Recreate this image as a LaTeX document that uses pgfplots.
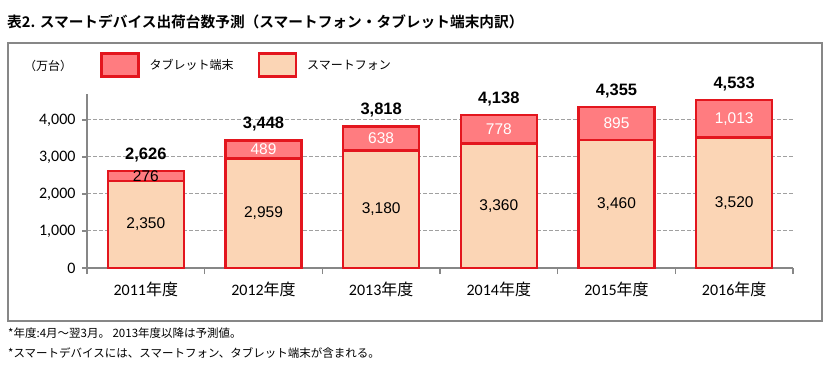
\documentclass[border=0pt]{standalone}
\usepackage{pgfplots}
\pgfplotsset{compat=1.18}
\usepackage{fontspec}
\setmainfont{Liberation Sans}
\newfontfamily\jp{Noto Sans CJK JP}
\newfontfamily\jpb{Noto Sans CJK JP Bold}
\newfontfamily\calib{Carlito}
\definecolor{tab}{HTML}{FF7C80}
\definecolor{smart}{HTML}{FBD5B5}
\definecolor{barred}{HTML}{E3161E}
\definecolor{axgray}{HTML}{878787}
\definecolor{gridgray}{HTML}{A0A0A0}
\newcommand\yr[1]{{\calib #1}{\jp 年度}}
\pgfplotsset{
  common/.style={
    at={(87pt,112pt)}, anchor=south west,
    width=706pt, height=174pt, scale only axis,
    xmin=-0.5, xmax=5.5, ymin=0, ymax=4700,
  }
}
\begin{document}
\begin{tikzpicture}[x=1pt,y=1pt]
\useasboundingbox (0,0) rectangle (826,380);
\draw[axgray, line width=1.3pt] (8,59) rectangle (822,337);
\node[anchor=west, inner sep=0] at (7,358) {\jpb\fontsize{14.7}{16}\selectfont 表2. スマートデバイス出荷台数予測（スマートフォン・タブレット端末内訳）};
\node[anchor=center, inner sep=0] at (48,314) {\jp\fontsize{12}{14}\selectfont （万台）};
\node[anchor=west, inner sep=0] at (8,47) {\jp\fontsize{11.5}{13}\selectfont *年度:4月～翌3月。 2013年度以降は予測値。};
\node[anchor=west, inner sep=0] at (8,27) {\jp\fontsize{11.5}{13}\selectfont *スマートデバイスには、スマートフォン、タブレット端末が含まれる。};

\begin{axis}[common,
  ybar stacked, bar width=76pt,
  axis x line*=bottom, axis y line*=left,
  axis line style={axgray, line width=1.3pt},
  tick align=outside,
  major tick length=5pt, minor tick length=6pt,
  tick style={axgray, line width=1.3pt},
  ytick={0,1000,2000,3000,4000},
  xtick={0,1,2,3,4,5},
  xticklabels={\yr{2011},\yr{2012},\yr{2013},\yr{2014},\yr{2015},\yr{2016}},
  minor xtick={-0.5,0.5,1.5,2.5,3.5,4.5,5.5},
  major x tick style={draw=none},
  ymajorgrids=true,
  major grid style={gridgray, dash pattern=on 3.5pt off 2.5pt, line width=1pt},
  /pgf/number format/1000 sep={,},
  /pgf/number format/assume math mode=true,
  yticklabel style={font=\calib\fontsize{16}{18}\selectfont, xshift=-3pt},
  xticklabel style={font=\fontsize{16}{18}\selectfont, yshift=-5pt},
]
\addplot[fill=smart, draw=barred, line width=2.5pt] coordinates {(0,2350) (1,2959) (2,3180) (3,3360) (4,3460) (5,3520)};
\addplot[fill=tab, draw=barred, line width=2.5pt] coordinates {(0,276) (1,489) (2,638) (3,778) (4,895) (5,1013)};
\end{axis}

\begin{axis}[common, hide axis, clip=false,
  legend style={at={(0.0184,1.2414)}, anchor=north west, draw=none, fill=none, inner sep=0pt,
    font=\jp\fontsize{12}{14}\selectfont,
    /tikz/every even column/.append style={column sep=22pt},
    /tikz/every odd column/.append style={column sep=8pt}},
  legend columns=2, legend cell align=left,
]
\addlegendimage{legend image code/.code={\draw[fill=tab, draw=barred, line width=2.5pt] (0pt,-11pt) rectangle (37pt,12pt);}}
\addlegendentry{タブレット端末}
\addlegendimage{legend image code/.code={\draw[fill=smart, draw=barred, line width=2.5pt] (0pt,-11pt) rectangle (37pt,12pt);}}
\addlegendentry{スマートフォン}

\addplot[only marks, mark=*, mark size=0pt, mark options={draw=none, fill=none},
  nodes near coords, point meta=explicit symbolic, nodes near coords align=center,
  every node near coord/.append style={font=\fontsize{15.5}{17}\selectfont, text=black, anchor=center}]
  table[meta=label] {
x y label
0 1175 2,350
1 1479.5 2,959
2 1590 3,180
3 1680 3,360
4 1730 3,460
5 1760 3,520
};
\addplot[only marks, mark=*, mark size=0pt, mark options={draw=none, fill=none},
  nodes near coords, point meta=explicit symbolic, nodes near coords align=center,
  every node near coord/.append style={font=\fontsize{15.5}{17}\selectfont, text=black, anchor=center}]
  table[meta=label] {
x y label
0 2488 276
};
\addplot[only marks, mark=*, mark size=0pt, mark options={draw=none, fill=none},
  nodes near coords, point meta=explicit symbolic, nodes near coords align=center,
  every node near coord/.append style={font=\fontsize{15.5}{17}\selectfont, text=white, anchor=center}]
  table[meta=label] {
x y label
1 3203.5 489
2 3499 638
3 3749 778
4 3907.5 895
5 4026.5 1,013
};
\addplot[only marks, mark=*, mark size=0pt, mark options={draw=none, fill=none},
  nodes near coords, point meta=explicit symbolic,
  every node near coord/.append style={font=\bfseries\fontsize{16.5}{18}\selectfont, text=black, anchor=south, inner sep=0pt, yshift=9pt}]
  table[meta=label] {
x y label
0 2626 2,626
1 3448 3,448
2 3818 3,818
3 4138 4,138
4 4355 4,355
5 4533 4,533
};
\end{axis}
\end{tikzpicture}
\end{document}
